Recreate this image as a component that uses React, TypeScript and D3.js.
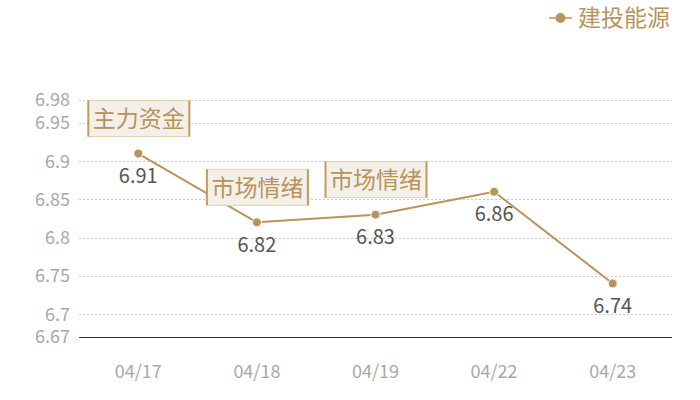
import * as d3 from "d3";

const categories = ["04/17", "04/18", "04/19", "04/22", "04/23"];
const values = [6.91, 6.82, 6.83, 6.86, 6.74];
const yTicks = [6.67, 6.7, 6.75, 6.8, 6.85, 6.9, 6.95, 6.98];
const seriesName = "建投能源";
const notes = [
  {cat: "04/17", text: "主力资金"},
  {cat: "04/18", text: "市场情绪"},
  {cat: "04/19", text: "市场情绪"},
];

const W = 700, H = 400;
const margin = {top: 100, right: 28, bottom: 63, left: 79};
const gold = "#b8935a";
const font = "'Noto Sans CJK SC', 'Noto Sans', sans-serif";

export default function App() {
  const width = W - margin.left - margin.right;
  const height = H - margin.top - margin.bottom;

  const x = d3.scaleBand().domain(categories).range([0, width]);
  const y = d3.scaleLinear().domain([6.67, 6.98]).range([height, 0]);
  const cx = (c: string) => (x(c) ?? 0) + x.bandwidth() / 2;

  const line = d3.line<number>()
    .x((_, i) => cx(categories[i]))
    .y((d) => y(d));

  const fmt = (v: number) => String(+v.toFixed(2));

  return (
    <svg width={W} height={H} style={{position: "absolute", left: 0, top: 0, fontFamily: font}}>
      <g transform={`translate(${margin.left},${margin.top})`}>
        {yTicks.map((t) => (
          <g key={t}>
            {t !== 6.67 && (
              <line x1={0} x2={width} y1={Math.round(y(t)) + 0.5} y2={Math.round(y(t)) + 0.5} stroke="#c8c8c8" strokeDasharray="2,2" />
            )}
            <text x={-9} y={y(t)} dy="0.36em" textAnchor="end" fontSize={18} fill="#a8a8a8">{fmt(t)}</text>
          </g>
        ))}
        <line x1={0} x2={width} y1={height + 0.5} y2={height + 0.5} stroke="#333" strokeWidth={1} />
        {categories.map((c) => (
          <text key={c} x={cx(c)} y={height + 35} dy="0.36em" textAnchor="middle" fontSize={18} fill="#a8a8a8">{c}</text>
        ))}
        <path d={line(values) ?? ""} fill="none" stroke={gold} strokeWidth={2} />
        {values.map((v, i) => (
          <g key={i}>
            <circle cx={cx(categories[i])} cy={y(v)} r={4.5} fill={gold} stroke="#fff" strokeWidth={1} />
            <text x={cx(categories[i])} y={y(v) + 22} dy="0.36em" textAnchor="middle" fontSize={20} fill="#555">{fmt(v)}</text>
          </g>
        ))}
        {notes.map((n, i) => {
          const v = values[categories.indexOf(n.cat)];
          const bx = cx(n.cat) - 50, by = y(v) - 17 - 36;
          return (
            <g key={i}>
              <rect x={bx} y={by} width={101} height={36} fill="#f3efe9" stroke="#e2d2b4" strokeWidth={1} />
              <line x1={bx} x2={bx} y1={by} y2={by + 36} stroke="#c49a5a" strokeWidth={2} />
              <line x1={bx + 101} x2={bx + 101} y1={by} y2={by + 36} stroke="#c49a5a" strokeWidth={2} />
              <text x={bx + 50.5} y={by + 18} dy="0.36em" textAnchor="middle" fontSize={23} fill={gold}>{n.text}</text>
            </g>
          );
        })}
      </g>
      <g transform="translate(549,18)">
        <line x1={0} x2={23} y1={0} y2={0} stroke={gold} strokeWidth={1.5} />
        <circle cx={11.5} cy={0} r={5} fill={gold} />
        <text x={29} y={0} dy="0.36em" fontSize={23} fill={gold}>{seriesName}</text>
      </g>
    </svg>
  );
}
